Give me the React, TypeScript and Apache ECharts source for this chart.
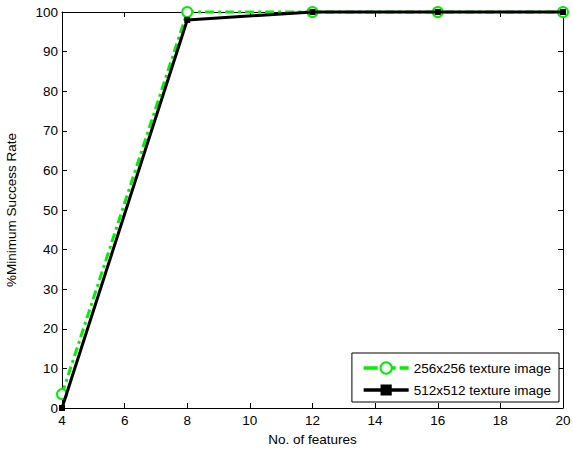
import React, { useEffect, useRef } from "react";
import * as echarts from "echarts";

const features = [4, 8, 12, 16, 20];
const rate256 = [3.5, 100, 100, 100, 100];
const rate512 = [0, 98, 100, 100, 100];
const seriesNames = ["256x256 texture image", "512x512 texture image"];

export default function App() {
  const ref = useRef<HTMLDivElement>(null);
  useEffect(() => {
    const chart = echarts.init(ref.current!, null, { renderer: "svg" });
    const font = "Liberation Sans, Arial, sans-serif";
    const fs = 13.5;
    const green = "#00f000";
    const axisCommon = {
      axisLine: { show: true, onZero: false, lineStyle: { color: "#000", width: 1 } },
      axisTick: { show: true, inside: true, length: 5, lineStyle: { color: "#000" } },
      splitLine: { show: false },
    };
    chart.setOption({
      animation: false,
      backgroundColor: "#fff",
      textStyle: { fontFamily: font },
      grid: { left: 62, right: 10, top: 12, bottom: 44, containLabel: false, outerBoundsMode: "none" },
      legend: {
        orient: "vertical",
        right: 14,
        bottom: 50,
        backgroundColor: "#fff",
        borderColor: "#000",
        borderWidth: 1,
        borderRadius: 0,
        padding: [8, 8, 5, 10],
        itemGap: 8,
        itemWidth: 45,
        itemHeight: 14,
        textStyle: { fontFamily: font, fontSize: fs, color: "#000" },
        data: [
          { name: seriesNames[0], lineStyle: { width: 3.5, type: [14, 4] } },
          { name: seriesNames[1], lineStyle: { width: 3.5, type: "solid" } },
        ],
      },
      xAxis: [
        {
          type: "value",
          min: 4,
          max: 20,
          interval: 2,
          name: "No. of features",
          nameLocation: "middle",
          nameGap: 24,
          nameTextStyle: { fontFamily: font, fontSize: fs, color: "#000" },
          axisLabel: { fontFamily: font, fontSize: fs, color: "#000", margin: 5 },
          ...axisCommon,
        },
        {
          type: "value",
          position: "top",
          min: 4,
          max: 20,
          interval: 2,
          axisLabel: { show: false },
          ...axisCommon,
        },
      ],
      yAxis: [
        {
          type: "value",
          min: 0,
          max: 100,
          interval: 10,
          name: "%Minimum Success Rate",
          nameLocation: "middle",
          nameGap: 44,
          nameTextStyle: { fontFamily: font, fontSize: fs, color: "#000" },
          axisLabel: { fontFamily: font, fontSize: fs, color: "#000", margin: 4 },
          ...axisCommon,
        },
        {
          type: "value",
          position: "right",
          min: 0,
          max: 100,
          interval: 10,
          axisLabel: { show: false },
          ...axisCommon,
        },
      ],
      series: [
        {
          name: seriesNames[0],
          type: "line",
          clip: false,
          data: features.map((f, i) => [f, rate256[i]]),
          symbol: "emptyCircle",
          symbolSize: 10,
          color: green,
          lineStyle: { color: green, width: 3, type: [9, 4, 3, 4] },
          itemStyle: { color: green, borderColor: green, borderWidth: 3 },
          z: 2,
        },
        {
          name: seriesNames[1],
          type: "line",
          clip: false,
          data: features.map((f, i) => [f, rate512[i]]),
          symbol: "rect",
          symbolSize: 6,
          color: "#000",
          lineStyle: { color: "#000", width: 3 },
          itemStyle: { color: "#000" },
          z: 3,
        },
      ],
    });
    return () => chart.dispose();
  }, []);
  return <div ref={ref} style={{ width: 573, height: 452, position: "absolute", left: 0, top: 0 }} />;
}
